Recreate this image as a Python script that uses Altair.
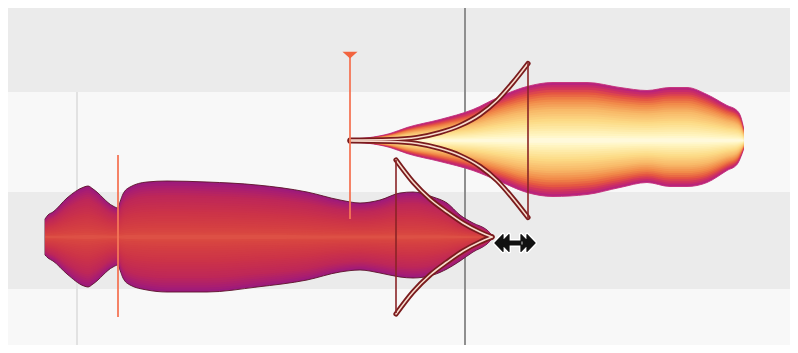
import altair as alt
import pandas as pd

# ---------------- data (pixel-like units) ----------------
# background pitch lanes
lane_y1 = [0, 92, 192, 289]
lane_y2 = [92, 192, 289, 353]
lane_fill = ["#ebebeb", "#f8f8f8", "#ebebeb", "#f8f8f8"]

# grid / playhead lines
grid_x = [77]
playhead_x = [465]

# note 1 (lower, magenta/red) amplitude profile
n1_center = 237
n1_x   = [45, 48, 53, 67, 84, 88, 93, 113, 118, 120, 123, 130, 147, 167, 207, 257, 307, 340, 360, 380, 400, 413, 433, 447, 460, 473, 487, 493]
n1_top = [18, 22, 25, 39, 50, 51, 48, 31, 29, 35, 43, 50, 55, 56, 55, 52, 45, 37, 34, 37, 44, 45, 40, 34, 22, 14, 7, 1]
n1_bot = [18, 21, 24, 37, 49, 50, 47, 30, 28, 33, 41, 48, 53, 55, 55, 50, 43, 35, 33, 36, 40, 41, 38, 32, 24, 15, 7, 1]

# note 2 (upper, yellow) amplitude profile
n2_center = 140.5
n2_x   = [350, 370, 390, 407, 440, 473, 500, 527, 553, 587, 620, 647, 670, 687, 707, 727, 737, 741, 743.5]
n2_top = [1.5, 3, 7, 13, 21, 31, 44, 54, 58, 58, 53, 50, 53, 53, 46, 35, 30, 23, 13]
n2_bot = [1.5, 3, 7, 13, 21, 30, 41, 52, 56, 54, 47, 42, 46, 46, 42, 30, 24, 16, 9]

# pitch transition curves (offset from note centre)
t1_x   = [396, 413, 430, 447, 463, 480, 492]
t1_off = [77, 55, 38, 25, 14, 5, 0]
t2_x   = [350, 390, 417, 440, 460, 480, 497, 513, 528]
t2_off = [0.5, 1, 3, 8, 15, 26, 40, 58, 77]

# transition vertical bars
bar_x  = [396, 528]
bar_y1 = [160, 63]
bar_y2 = [313, 218]

# orange marker lines
mark_x  = [118, 350]
mark_y1 = [155, 53]
mark_y2 = [317, 219]
tri_x, tri_y = [350], [55]

# handle icon
handle_x, handle_y = [515], [243]

# ---------------- styling ----------------
n1_stops = [(0.0, "#e05848"), (0.1, "#d84540"), (0.45, "#cc3348"),
            (0.75, "#be2758"), (0.92, "#aa1e70"), (1.0, "#9c1a7c")]
n2_stops = [(0.0, "#fffbe8"), (0.12, "#fff5c0"), (0.35, "#fcdc88"),
            (0.55, "#f8b868"), (0.72, "#f08848"), (0.84, "#e45442"),
            (0.93, "#cf3060"), (1.0, "#b8237c")]


def lerp_color(stops, r):
    for (r0, c0), (r1, c1) in zip(stops, stops[1:]):
        if r0 <= r <= r1:
            t = (r - r0) / (r1 - r0)
            a = [int(c0[i:i + 2], 16) for i in (1, 3, 5)]
            b = [int(c1[i:i + 2], 16) for i in (1, 3, 5)]
            return "#%02x%02x%02x" % tuple(round(a[j] + (b[j] - a[j]) * t) for j in range(3))
    return stops[-1][1]


W, H = 782, 337
XS = alt.Scale(domain=[8, 8 + W], range=[0, W], nice=False, zero=False)
YS = alt.Scale(domain=[8, 8 + H], range=[0, H], nice=False, zero=False)

layers = []

# background lanes
lanes = pd.DataFrame({"x1": [0] * 4, "x2": [798] * 4, "y1": lane_y1, "y2": lane_y2, "fill": lane_fill})
layers.append(alt.Chart(lanes).mark_rect(clip=True).encode(
    x=alt.X("x1:Q", scale=XS, axis=None), x2="x2:Q",
    y=alt.Y("y1:Q", scale=YS, axis=None), y2="y2:Q",
    color=alt.Color("fill:N", scale=None)))

grid = pd.DataFrame({"x": grid_x, "y1": [92], "y2": [353]})
layers.append(alt.Chart(grid).mark_rule(color="#e2e2e2", strokeWidth=2, clip=True).encode(
    x=alt.X("x:Q", scale=XS, axis=None), y=alt.Y("y1:Q", scale=YS, axis=None), y2="y2:Q"))

ph = pd.DataFrame({"x": playhead_x, "y1": [0], "y2": [353]})
layers.append(alt.Chart(ph).mark_rule(color="#8f8f8f", strokeWidth=2, clip=True).encode(
    x=alt.X("x:Q", scale=XS, axis=None), y=alt.Y("y1:Q", scale=YS, axis=None), y2="y2:Q"))


def blob_layers(xs, top, bot, center, stops, outline, n=24):
    df = pd.DataFrame({"x": xs, "top": top, "bot": bot, "c": [center] * len(xs)})
    out = []
    for i in range(n):
        k = 1 - i / n
        props = dict(color=lerp_color(stops, k), interpolate="monotone", clip=True)
        if i == 0:
            props.update(stroke=outline, strokeWidth=0.9)
        out.append(alt.Chart(df).transform_calculate(
            ya=f"datum.c - {k} * datum.top", yb=f"datum.c + {k} * datum.bot"
        ).mark_area(**props).encode(
            x=alt.X("x:Q", scale=XS, axis=None),
            y=alt.Y("ya:Q", scale=YS, axis=None), y2="yb:Q"))
    return out


layers += blob_layers(n1_x, n1_top, n1_bot, n1_center, n1_stops, "#5c1228")
layers += blob_layers(n2_x, n2_top, n2_bot, n2_center, n2_stops, "#c42f78")

# transition curves
rows = []
for side, sgn in (("top", -1), ("bot", 1)):
    for x, o in zip(t1_x, t1_off):
        rows.append({"curve": "t1" + side, "x": x, "y": n1_center + sgn * o})
    for x, o in zip(t2_x, t2_off):
        rows.append({"curve": "t2" + side, "x": x, "y": n2_center + sgn * o})
curves = pd.DataFrame(rows)
for col, w in (("#7a1b1d", 5.2), ("#f7dccd", 1.6)):
    layers.append(alt.Chart(curves).mark_line(color=col, strokeWidth=w, interpolate="monotone",
                                              strokeCap="round", clip=True).encode(
        x=alt.X("x:Q", scale=XS, axis=None), y=alt.Y("y:Q", scale=YS, axis=None),
        detail="curve:N"))

bars = pd.DataFrame({"x": bar_x, "y1": bar_y1, "y2": bar_y2})
layers.append(alt.Chart(bars).mark_rule(color="#8a2426", strokeWidth=1.6).encode(
    x=alt.X("x:Q", scale=XS, axis=None), y=alt.Y("y1:Q", scale=YS, axis=None), y2="y2:Q"))

marks = pd.DataFrame({"x": mark_x, "y1": mark_y1, "y2": mark_y2})
layers.append(alt.Chart(marks).mark_rule(color="#f47656", strokeWidth=2, opacity=0.9).encode(
    x=alt.X("x:Q", scale=XS, axis=None), y=alt.Y("y1:Q", scale=YS, axis=None), y2="y2:Q"))

tri = pd.DataFrame({"x": tri_x, "y": tri_y})
layers.append(alt.Chart(tri).mark_point(shape="M-1,-0.45L1,-0.45L0,0.45Z", size=225, filled=True,
                                        color="#f2643f", opacity=1).encode(
    x=alt.X("x:Q", scale=XS, axis=None), y=alt.Y("y:Q", scale=YS, axis=None)))

handle_path = ("M-1,0L-0.6,-0.42L-0.6,0.42Z M-0.7,0L-0.3,-0.42L-0.3,0.42Z "
               "M-0.4,-0.1L0.4,-0.1L0.4,0.1L-0.4,0.1Z "
               "M1,0L0.6,-0.42L0.6,0.42Z M0.7,0L0.3,-0.42L0.3,0.42Z")
hd = pd.DataFrame({"x": handle_x, "y": handle_y})
layers.append(alt.Chart(hd).mark_point(shape=handle_path, size=1600, filled=True, fill="#111111",
                                       stroke="white", strokeWidth=4, opacity=1,
                                       strokeJoin="round").encode(
    x=alt.X("x:Q", scale=XS, axis=None), y=alt.Y("y:Q", scale=YS, axis=None)))
layers.append(alt.Chart(hd).mark_point(shape=handle_path, size=1600, filled=True, fill="#111111",
                                       stroke="#111111", strokeWidth=1.2, opacity=1,
                                       strokeJoin="round").encode(
    x=alt.X("x:Q", scale=XS, axis=None), y=alt.Y("y:Q", scale=YS, axis=None)))

chart = alt.layer(*layers).properties(
    width=W, height=H, padding=0,
    autosize=alt.AutoSizeParams(type="none"),
    background="white",
).configure_view(stroke=None)

chart.save("out.html", embed_options={"renderer": "svg", "actions": False})
